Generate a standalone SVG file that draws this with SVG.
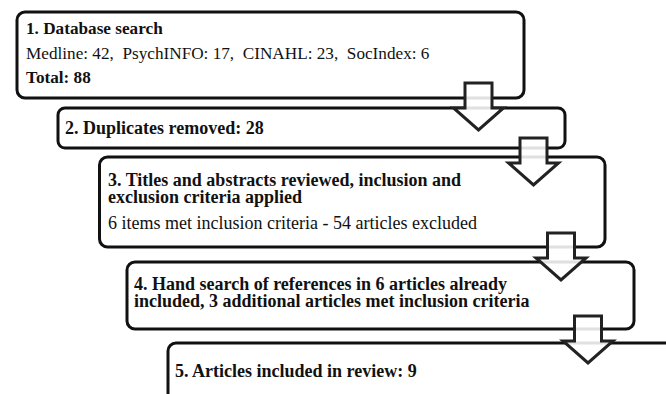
<svg xmlns="http://www.w3.org/2000/svg" xmlns:xlink="http://www.w3.org/1999/xlink" width="666" height="394" viewBox="0 0 666 394">
  <style>
    .box { fill: #ffffff; stroke: #111111; stroke-width: 3; }
    .t { font-family: "Liberation Serif", "Times New Roman", serif; fill: #111111; font-size: 18px; }
    .b { font-weight: bold; }
    .s17 { font-size: 17.2px; }
    .pre { white-space: pre; }
    .arrow { fill: #ffffff; fill-opacity: 0.87; stroke: #222222; stroke-width: 3; stroke-linejoin: miter; }
  </style>
  <defs>
    <path id="downArrow" d="M-13.5,0 H13.5 V25 H25 L0,47 L-25,25 H-13.5 Z"/>
  </defs>
  <rect width="666" height="394" fill="#ffffff"/>

  <g id="node1">
    <rect class="box" x="17" y="12" width="507" height="86" rx="8" ry="8"/>
    <text class="t b s17" x="26" y="34">1. Database search</text>
    <text class="t s17 pre" x="26" y="59">Medline: 42,  PsychINFO: 17,  CINAHL: 23,  SocIndex: 6</text>
    <text class="t b s17" x="26" y="83">Total: 88</text>
  </g>

  <g id="node2">
    <rect class="box" x="58" y="108" width="507" height="40" rx="7" ry="7"/>
    <text class="t b" x="65" y="134">2. Duplicates removed: 28</text>
  </g>

  <g id="node3">
    <rect class="box" x="99.5" y="157" width="505.5" height="90" rx="8" ry="8"/>
    <text class="t b" x="108" y="186">3. Titles and abstracts reviewed, inclusion and</text>
    <text class="t b" x="108" y="203">exclusion criteria applied</text>
    <text class="t" x="108" y="229">6 items met inclusion criteria - 54 articles excluded</text>
  </g>

  <g id="node4">
    <rect class="box" x="127" y="262" width="507" height="67" rx="8" ry="8"/>
    <text class="t b" x="134" y="290">4. Hand search of references in 6 articles already</text>
    <text class="t b" x="134" y="307">included, 3 additional articles met inclusion criteria</text>
  </g>

  <g id="node5">
    <rect class="box" x="168" y="343" width="600" height="100" rx="8" ry="8"/>
    <text class="t b" x="175" y="377">5. Articles included in review: 9</text>
  </g>

  <g id="connectors">
    <use xlink:href="#downArrow" href="#downArrow" class="arrow" transform="translate(478.5,83)"/>
    <use xlink:href="#downArrow" href="#downArrow" class="arrow" transform="translate(533.5,138)"/>
    <use xlink:href="#downArrow" href="#downArrow" class="arrow" transform="translate(561,233)"/>
    <use xlink:href="#downArrow" href="#downArrow" class="arrow" transform="translate(588,316)"/>
  </g>
</svg>
